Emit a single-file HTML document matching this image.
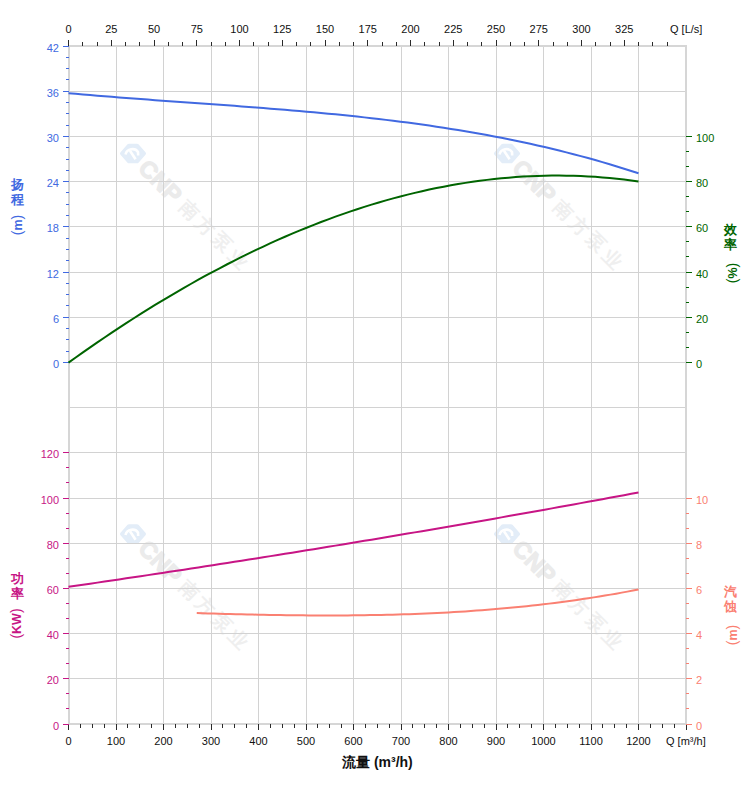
<!DOCTYPE html>
<html><head><meta charset="utf-8"><style>
html,body{margin:0;padding:0;background:#fff;}
body{width:752px;height:797px;position:relative;overflow:hidden;font-family:"Liberation Sans", sans-serif;}
.vt{position:absolute;writing-mode:vertical-rl;font-size:14px;line-height:15px;font-weight:bold;white-space:nowrap;}
.xt{position:absolute;font-size:14px;font-weight:bold;white-space:nowrap;color:#111;}
</style></head><body>
<svg width="752" height="797" viewBox="0 0 752 797" style="position:absolute;left:0;top:0">
<g transform="translate(133,153.5)"><polygon points="-11,0 -4,-7.8 4,-7.8 11,0 4,7.8 -4,7.8" fill="#e3edf8" stroke="#e3edf8" stroke-width="4" stroke-linejoin="round"/><path d="M-7.5,1 C-6,-5 2,-6 5,-1.5 L5.2,2" fill="none" stroke="#fff" stroke-width="2.6"/><path d="M-3,-2.8 L2.6,5.8" fill="none" stroke="#fff" stroke-width="2.6"/><g transform="rotate(45)"><text x="14" y="8.5" font-family='"Liberation Sans",sans-serif' font-size="23.5" font-weight="bold" fill="#ebebeb" stroke="#ebebeb" stroke-width="1.2">CNP</text><text x="70" y="6.5" font-family='"Liberation Sans",sans-serif' font-size="19" letter-spacing="4.2" font-weight="bold" fill="#efefef">南方泵业</text></g></g>
<g transform="translate(507,153.5)"><polygon points="-11,0 -4,-7.8 4,-7.8 11,0 4,7.8 -4,7.8" fill="#e3edf8" stroke="#e3edf8" stroke-width="4" stroke-linejoin="round"/><path d="M-7.5,1 C-6,-5 2,-6 5,-1.5 L5.2,2" fill="none" stroke="#fff" stroke-width="2.6"/><path d="M-3,-2.8 L2.6,5.8" fill="none" stroke="#fff" stroke-width="2.6"/><g transform="rotate(45)"><text x="14" y="8.5" font-family='"Liberation Sans",sans-serif' font-size="23.5" font-weight="bold" fill="#ebebeb" stroke="#ebebeb" stroke-width="1.2">CNP</text><text x="70" y="6.5" font-family='"Liberation Sans",sans-serif' font-size="19" letter-spacing="4.2" font-weight="bold" fill="#efefef">南方泵业</text></g></g>
<g transform="translate(133,534)"><polygon points="-11,0 -4,-7.8 4,-7.8 11,0 4,7.8 -4,7.8" fill="#e3edf8" stroke="#e3edf8" stroke-width="4" stroke-linejoin="round"/><path d="M-7.5,1 C-6,-5 2,-6 5,-1.5 L5.2,2" fill="none" stroke="#fff" stroke-width="2.6"/><path d="M-3,-2.8 L2.6,5.8" fill="none" stroke="#fff" stroke-width="2.6"/><g transform="rotate(45)"><text x="14" y="8.5" font-family='"Liberation Sans",sans-serif' font-size="23.5" font-weight="bold" fill="#ebebeb" stroke="#ebebeb" stroke-width="1.2">CNP</text><text x="70" y="6.5" font-family='"Liberation Sans",sans-serif' font-size="19" letter-spacing="4.2" font-weight="bold" fill="#efefef">南方泵业</text></g></g>
<g transform="translate(507,534)"><polygon points="-11,0 -4,-7.8 4,-7.8 11,0 4,7.8 -4,7.8" fill="#e3edf8" stroke="#e3edf8" stroke-width="4" stroke-linejoin="round"/><path d="M-7.5,1 C-6,-5 2,-6 5,-1.5 L5.2,2" fill="none" stroke="#fff" stroke-width="2.6"/><path d="M-3,-2.8 L2.6,5.8" fill="none" stroke="#fff" stroke-width="2.6"/><g transform="rotate(45)"><text x="14" y="8.5" font-family='"Liberation Sans",sans-serif' font-size="23.5" font-weight="bold" fill="#ebebeb" stroke="#ebebeb" stroke-width="1.2">CNP</text><text x="70" y="6.5" font-family='"Liberation Sans",sans-serif' font-size="19" letter-spacing="4.2" font-weight="bold" fill="#efefef">南方泵业</text></g></g>
<g fill="#d2d2d2" shape-rendering="crispEdges"><rect x="116" y="46" width="1" height="677"/><rect x="163" y="46" width="1" height="677"/><rect x="211" y="46" width="1" height="677"/><rect x="258" y="46" width="1" height="677"/><rect x="306" y="46" width="1" height="677"/><rect x="353" y="46" width="1" height="677"/><rect x="401" y="46" width="1" height="677"/><rect x="448" y="46" width="1" height="677"/><rect x="496" y="46" width="1" height="677"/><rect x="543" y="46" width="1" height="677"/><rect x="591" y="46" width="1" height="677"/><rect x="638" y="46" width="1" height="677"/><rect x="70" y="91" width="615" height="1"/><rect x="70" y="136" width="615" height="1"/><rect x="70" y="181" width="615" height="1"/><rect x="70" y="226" width="615" height="1"/><rect x="70" y="272" width="615" height="1"/><rect x="70" y="317" width="615" height="1"/><rect x="70" y="362" width="615" height="1"/><rect x="70" y="407" width="615" height="1"/><rect x="70" y="452" width="615" height="1"/><rect x="70" y="498" width="615" height="1"/><rect x="70" y="543" width="615" height="1"/><rect x="70" y="588" width="615" height="1"/><rect x="70" y="633" width="615" height="1"/><rect x="70" y="678" width="615" height="1"/></g>
<g fill="#d6d6d6" shape-rendering="crispEdges"><rect x="68" y="45" width="2" height="680"/><rect x="685" y="45" width="2" height="680"/><rect x="68" y="45" width="619" height="2"/><rect x="68" y="723" width="619" height="2"/></g>
<g fill="#2a2a2a" shape-rendering="crispEdges"><rect x="68" y="40" width="1" height="6"/><rect x="82" y="42" width="1" height="4"/><rect x="97" y="42" width="1" height="4"/><rect x="111" y="40" width="1" height="6"/><rect x="125" y="42" width="1" height="4"/><rect x="139" y="42" width="1" height="4"/><rect x="154" y="40" width="1" height="6"/><rect x="168" y="42" width="1" height="4"/><rect x="182" y="42" width="1" height="4"/><rect x="196" y="40" width="1" height="6"/><rect x="211" y="42" width="1" height="4"/><rect x="225" y="42" width="1" height="4"/><rect x="239" y="40" width="1" height="6"/><rect x="253" y="42" width="1" height="4"/><rect x="268" y="42" width="1" height="4"/><rect x="282" y="40" width="1" height="6"/><rect x="296" y="42" width="1" height="4"/><rect x="310" y="42" width="1" height="4"/><rect x="325" y="40" width="1" height="6"/><rect x="339" y="42" width="1" height="4"/><rect x="353" y="42" width="1" height="4"/><rect x="367" y="40" width="1" height="6"/><rect x="382" y="42" width="1" height="4"/><rect x="396" y="42" width="1" height="4"/><rect x="410" y="40" width="1" height="6"/><rect x="424" y="42" width="1" height="4"/><rect x="439" y="42" width="1" height="4"/><rect x="453" y="40" width="1" height="6"/><rect x="467" y="42" width="1" height="4"/><rect x="481" y="42" width="1" height="4"/><rect x="496" y="40" width="1" height="6"/><rect x="510" y="42" width="1" height="4"/><rect x="524" y="42" width="1" height="4"/><rect x="538" y="40" width="1" height="6"/><rect x="553" y="42" width="1" height="4"/><rect x="567" y="42" width="1" height="4"/><rect x="581" y="40" width="1" height="6"/><rect x="595" y="42" width="1" height="4"/><rect x="610" y="42" width="1" height="4"/><rect x="624" y="40" width="1" height="6"/><rect x="638" y="42" width="1" height="4"/><rect x="652" y="42" width="1" height="4"/><rect x="667" y="42" width="1" height="4"/><rect x="68" y="724" width="1" height="6"/><rect x="80" y="724" width="1" height="4"/><rect x="92" y="724" width="1" height="4"/><rect x="104" y="724" width="1" height="4"/><rect x="116" y="724" width="1" height="6"/><rect x="127" y="724" width="1" height="4"/><rect x="139" y="724" width="1" height="4"/><rect x="151" y="724" width="1" height="4"/><rect x="163" y="724" width="1" height="6"/><rect x="175" y="724" width="1" height="4"/><rect x="187" y="724" width="1" height="4"/><rect x="199" y="724" width="1" height="4"/><rect x="211" y="724" width="1" height="6"/><rect x="222" y="724" width="1" height="4"/><rect x="234" y="724" width="1" height="4"/><rect x="246" y="724" width="1" height="4"/><rect x="258" y="724" width="1" height="6"/><rect x="270" y="724" width="1" height="4"/><rect x="282" y="724" width="1" height="4"/><rect x="294" y="724" width="1" height="4"/><rect x="306" y="724" width="1" height="6"/><rect x="317" y="724" width="1" height="4"/><rect x="329" y="724" width="1" height="4"/><rect x="341" y="724" width="1" height="4"/><rect x="353" y="724" width="1" height="6"/><rect x="365" y="724" width="1" height="4"/><rect x="377" y="724" width="1" height="4"/><rect x="389" y="724" width="1" height="4"/><rect x="401" y="724" width="1" height="6"/><rect x="412" y="724" width="1" height="4"/><rect x="424" y="724" width="1" height="4"/><rect x="436" y="724" width="1" height="4"/><rect x="448" y="724" width="1" height="6"/><rect x="460" y="724" width="1" height="4"/><rect x="472" y="724" width="1" height="4"/><rect x="484" y="724" width="1" height="4"/><rect x="496" y="724" width="1" height="6"/><rect x="507" y="724" width="1" height="4"/><rect x="519" y="724" width="1" height="4"/><rect x="531" y="724" width="1" height="4"/><rect x="543" y="724" width="1" height="6"/><rect x="555" y="724" width="1" height="4"/><rect x="567" y="724" width="1" height="4"/><rect x="579" y="724" width="1" height="4"/><rect x="591" y="724" width="1" height="6"/><rect x="602" y="724" width="1" height="4"/><rect x="614" y="724" width="1" height="4"/><rect x="626" y="724" width="1" height="4"/><rect x="638" y="724" width="1" height="6"/><rect x="650" y="724" width="1" height="4"/><rect x="662" y="724" width="1" height="4"/><rect x="674" y="724" width="1" height="4"/><rect x="686" y="724" width="1" height="6"/></g>
<g fill="#4169e1" shape-rendering="crispEdges"><rect x="63" y="46" width="6" height="1"/><rect x="66" y="57" width="3" height="1"/><rect x="66" y="68" width="3" height="1"/><rect x="66" y="79" width="3" height="1"/><rect x="63" y="91" width="6" height="1"/><rect x="66" y="102" width="3" height="1"/><rect x="66" y="113" width="3" height="1"/><rect x="66" y="125" width="3" height="1"/><rect x="63" y="136" width="6" height="1"/><rect x="66" y="147" width="3" height="1"/><rect x="66" y="159" width="3" height="1"/><rect x="66" y="170" width="3" height="1"/><rect x="63" y="181" width="6" height="1"/><rect x="66" y="192" width="3" height="1"/><rect x="66" y="204" width="3" height="1"/><rect x="66" y="215" width="3" height="1"/><rect x="63" y="226" width="6" height="1"/><rect x="66" y="238" width="3" height="1"/><rect x="66" y="249" width="3" height="1"/><rect x="66" y="260" width="3" height="1"/><rect x="63" y="272" width="6" height="1"/><rect x="66" y="283" width="3" height="1"/><rect x="66" y="294" width="3" height="1"/><rect x="66" y="305" width="3" height="1"/><rect x="63" y="317" width="6" height="1"/><rect x="66" y="328" width="3" height="1"/><rect x="66" y="339" width="3" height="1"/><rect x="66" y="351" width="3" height="1"/><rect x="63" y="362" width="6" height="1"/></g>
<g fill="#006400" shape-rendering="crispEdges"><rect x="686" y="136" width="6" height="1"/><rect x="686" y="151" width="3" height="1"/><rect x="686" y="166" width="3" height="1"/><rect x="686" y="181" width="6" height="1"/><rect x="686" y="196" width="3" height="1"/><rect x="686" y="211" width="3" height="1"/><rect x="686" y="226" width="6" height="1"/><rect x="686" y="241" width="3" height="1"/><rect x="686" y="256" width="3" height="1"/><rect x="686" y="272" width="6" height="1"/><rect x="686" y="287" width="3" height="1"/><rect x="686" y="302" width="3" height="1"/><rect x="686" y="317" width="6" height="1"/><rect x="686" y="332" width="3" height="1"/><rect x="686" y="347" width="3" height="1"/><rect x="686" y="362" width="6" height="1"/></g>
<g fill="#c71585" shape-rendering="crispEdges"><rect x="63" y="452" width="6" height="1"/><rect x="66" y="467" width="3" height="1"/><rect x="66" y="482" width="3" height="1"/><rect x="63" y="498" width="6" height="1"/><rect x="66" y="513" width="3" height="1"/><rect x="66" y="528" width="3" height="1"/><rect x="63" y="543" width="6" height="1"/><rect x="66" y="558" width="3" height="1"/><rect x="66" y="573" width="3" height="1"/><rect x="63" y="588" width="6" height="1"/><rect x="66" y="603" width="3" height="1"/><rect x="66" y="618" width="3" height="1"/><rect x="63" y="633" width="6" height="1"/><rect x="66" y="648" width="3" height="1"/><rect x="66" y="663" width="3" height="1"/><rect x="63" y="678" width="6" height="1"/><rect x="66" y="693" width="3" height="1"/><rect x="66" y="708" width="3" height="1"/><rect x="63" y="724" width="6" height="1"/></g>
<g fill="#fa8072" shape-rendering="crispEdges"><rect x="686" y="498" width="6" height="1"/><rect x="686" y="513" width="3" height="1"/><rect x="686" y="528" width="3" height="1"/><rect x="686" y="543" width="6" height="1"/><rect x="686" y="558" width="3" height="1"/><rect x="686" y="573" width="3" height="1"/><rect x="686" y="588" width="6" height="1"/><rect x="686" y="603" width="3" height="1"/><rect x="686" y="618" width="3" height="1"/><rect x="686" y="633" width="6" height="1"/><rect x="686" y="648" width="3" height="1"/><rect x="686" y="663" width="3" height="1"/><rect x="686" y="678" width="6" height="1"/><rect x="686" y="693" width="3" height="1"/><rect x="686" y="708" width="3" height="1"/><rect x="686" y="724" width="6" height="1"/></g>
<polyline fill="none" stroke="#4169e1" stroke-width="2" points="68.50,93.15 75.72,93.80 82.93,94.43 90.15,95.05 97.36,95.66 104.58,96.25 111.79,96.83 119.01,97.40 126.22,97.96 133.44,98.52 140.65,99.06 147.87,99.60 155.08,100.13 162.30,100.66 169.51,101.18 176.73,101.70 183.94,102.22 191.16,102.74 198.37,103.25 205.59,103.77 212.80,104.29 220.02,104.81 227.23,105.34 234.45,105.87 241.66,106.41 248.88,106.95 256.09,107.51 263.31,108.07 270.53,108.64 277.74,109.22 284.96,109.81 292.17,110.42 299.39,111.04 306.60,111.67 313.82,112.32 321.03,112.99 328.25,113.67 335.46,114.37 342.68,115.09 349.89,115.83 357.11,116.60 364.32,117.38 371.54,118.19 378.75,119.02 385.97,119.88 393.18,120.76 400.40,121.67 407.61,122.61 414.83,123.58 422.04,124.58 429.26,125.61 436.47,126.67 443.69,127.76 450.91,128.89 458.12,130.06 465.34,131.25 472.55,132.49 479.77,133.76 486.98,135.08 494.20,136.43 501.41,137.82 508.63,139.26 515.84,140.73 523.06,142.25 530.27,143.82 537.49,145.43 544.70,147.09 551.92,148.79 559.13,150.55 566.35,152.35 573.56,154.21 580.78,156.11 587.99,158.07 595.21,160.08 602.42,162.14 609.64,164.26 616.85,166.44 624.07,168.67 631.28,170.97 638.50,173.32"/>
<polyline fill="none" stroke="#006400" stroke-width="2" points="68.50,362.66 75.72,357.50 82.93,352.40 90.15,347.37 97.36,342.40 104.58,337.50 111.79,332.65 119.01,327.88 126.22,323.17 133.44,318.52 140.65,313.94 147.87,309.42 155.08,304.97 162.30,300.59 169.51,296.28 176.73,292.03 183.94,287.85 191.16,283.75 198.37,279.71 205.59,275.74 212.80,271.84 220.02,268.01 227.23,264.25 234.45,260.56 241.66,256.95 248.88,253.40 256.09,249.93 263.31,246.53 270.53,243.21 277.74,239.96 284.96,236.79 292.17,233.69 299.39,230.66 306.60,227.71 313.82,224.84 321.03,222.04 328.25,219.32 335.46,216.68 342.68,214.12 349.89,211.63 357.11,209.23 364.32,206.90 371.54,204.65 378.75,202.48 385.97,200.40 393.18,198.39 400.40,196.46 407.61,194.62 414.83,192.86 422.04,191.18 429.26,189.59 436.47,188.08 443.69,186.65 450.91,185.31 458.12,184.05 465.34,182.88 472.55,181.79 479.77,180.79 486.98,179.88 494.20,179.05 501.41,178.31 508.63,177.66 515.84,177.10 523.06,176.62 530.27,176.24 537.49,175.94 544.70,175.74 551.92,175.62 559.13,175.60 566.35,175.67 573.56,175.83 580.78,176.08 587.99,176.43 595.21,176.86 602.42,177.40 609.64,178.02 616.85,178.74 624.07,179.56 631.28,180.47 638.50,181.47"/>
<polyline fill="none" stroke="#c71585" stroke-width="2" points="68.50,586.82 75.72,585.78 82.93,584.73 90.15,583.68 97.36,582.62 104.58,581.56 111.79,580.50 119.01,579.43 126.22,578.36 133.44,577.29 140.65,576.21 147.87,575.13 155.08,574.04 162.30,572.95 169.51,571.86 176.73,570.76 183.94,569.66 191.16,568.55 198.37,567.44 205.59,566.33 212.80,565.21 220.02,564.09 227.23,562.96 234.45,561.84 241.66,560.70 248.88,559.57 256.09,558.43 263.31,557.28 270.53,556.13 277.74,554.98 284.96,553.83 292.17,552.67 299.39,551.50 306.60,550.34 313.82,549.17 321.03,547.99 328.25,546.81 335.46,545.63 342.68,544.44 349.89,543.25 357.11,542.06 364.32,540.86 371.54,539.66 378.75,538.45 385.97,537.24 393.18,536.03 400.40,534.81 407.61,533.59 414.83,532.37 422.04,531.14 429.26,529.90 436.47,528.67 443.69,527.43 450.91,526.18 458.12,524.93 465.34,523.68 472.55,522.43 479.77,521.17 486.98,519.90 494.20,518.64 501.41,517.36 508.63,516.09 515.84,514.81 523.06,513.53 530.27,512.24 537.49,510.95 544.70,509.66 551.92,508.36 559.13,507.06 566.35,505.75 573.56,504.44 580.78,503.13 587.99,501.81 595.21,500.49 602.42,499.16 609.64,497.83 616.85,496.50 624.07,495.16 631.28,493.82 638.50,492.48"/>
<polyline fill="none" stroke="#fa8072" stroke-width="2" points="196.75,613.07 202.34,613.24 207.93,613.41 213.53,613.57 219.12,613.73 224.71,613.88 230.30,614.03 235.89,614.17 241.48,614.31 247.08,614.44 252.67,614.56 258.26,614.68 263.85,614.79 269.44,614.89 275.03,614.99 280.63,615.07 286.22,615.15 291.81,615.22 297.40,615.28 302.99,615.34 308.59,615.38 314.18,615.41 319.77,615.43 325.36,615.44 330.95,615.44 336.54,615.43 342.14,615.41 347.73,615.38 353.32,615.33 358.91,615.27 364.50,615.20 370.09,615.12 375.69,615.02 381.28,614.91 386.87,614.78 392.46,614.64 398.05,614.49 403.65,614.32 409.24,614.14 414.83,613.94 420.42,613.72 426.01,613.49 431.60,613.24 437.20,612.97 442.79,612.69 448.38,612.39 453.97,612.07 459.56,611.73 465.16,611.38 470.75,611.00 476.34,610.61 481.93,610.20 487.52,609.76 493.11,609.31 498.71,608.84 504.30,608.35 509.89,607.83 515.48,607.30 521.07,606.74 526.66,606.16 532.26,605.56 537.85,604.93 543.44,604.29 549.03,603.62 554.62,602.92 560.22,602.20 565.81,601.46 571.40,600.69 576.99,599.90 582.58,599.09 588.17,598.24 593.77,597.38 599.36,596.48 604.95,595.56 610.54,594.62 616.13,593.64 621.72,592.64 627.32,591.61 632.91,590.55 638.50,589.47"/>
<g font-family='"Liberation Sans", sans-serif'><text x="68.5" y="33" fill="#111" text-anchor="middle" font-size="11" font-weight="normal">0</text><text x="111.25" y="33" fill="#111" text-anchor="middle" font-size="11" font-weight="normal">25</text><text x="154.0" y="33" fill="#111" text-anchor="middle" font-size="11" font-weight="normal">50</text><text x="196.75" y="33" fill="#111" text-anchor="middle" font-size="11" font-weight="normal">75</text><text x="239.5" y="33" fill="#111" text-anchor="middle" font-size="11" font-weight="normal">100</text><text x="282.25" y="33" fill="#111" text-anchor="middle" font-size="11" font-weight="normal">125</text><text x="325.0" y="33" fill="#111" text-anchor="middle" font-size="11" font-weight="normal">150</text><text x="367.75" y="33" fill="#111" text-anchor="middle" font-size="11" font-weight="normal">175</text><text x="410.5" y="33" fill="#111" text-anchor="middle" font-size="11" font-weight="normal">200</text><text x="453.25" y="33" fill="#111" text-anchor="middle" font-size="11" font-weight="normal">225</text><text x="496.0" y="33" fill="#111" text-anchor="middle" font-size="11" font-weight="normal">250</text><text x="538.75" y="33" fill="#111" text-anchor="middle" font-size="11" font-weight="normal">275</text><text x="581.5" y="33" fill="#111" text-anchor="middle" font-size="11" font-weight="normal">300</text><text x="624.25" y="33" fill="#111" text-anchor="middle" font-size="11" font-weight="normal">325</text><text x="670" y="33" fill="#111" text-anchor="start" font-size="11" font-weight="normal">Q [L/s]</text><text x="68.5" y="745" fill="#111" text-anchor="middle" font-size="11" font-weight="normal">0</text><text x="116.0" y="745" fill="#111" text-anchor="middle" font-size="11" font-weight="normal">100</text><text x="163.5" y="745" fill="#111" text-anchor="middle" font-size="11" font-weight="normal">200</text><text x="211.0" y="745" fill="#111" text-anchor="middle" font-size="11" font-weight="normal">300</text><text x="258.5" y="745" fill="#111" text-anchor="middle" font-size="11" font-weight="normal">400</text><text x="306.0" y="745" fill="#111" text-anchor="middle" font-size="11" font-weight="normal">500</text><text x="353.5" y="745" fill="#111" text-anchor="middle" font-size="11" font-weight="normal">600</text><text x="401.0" y="745" fill="#111" text-anchor="middle" font-size="11" font-weight="normal">700</text><text x="448.5" y="745" fill="#111" text-anchor="middle" font-size="11" font-weight="normal">800</text><text x="496.0" y="745" fill="#111" text-anchor="middle" font-size="11" font-weight="normal">900</text><text x="543.5" y="745" fill="#111" text-anchor="middle" font-size="11" font-weight="normal">1000</text><text x="591.0" y="745" fill="#111" text-anchor="middle" font-size="11" font-weight="normal">1100</text><text x="638.5" y="745" fill="#111" text-anchor="middle" font-size="11" font-weight="normal">1200</text><text x="666" y="745" fill="#111" text-anchor="start" font-size="11" font-weight="normal">Q [m³/h]</text><text x="59" y="51.6" fill="#4169e1" text-anchor="end" font-size="11" font-weight="normal">42</text><text x="59" y="96.80000000000001" fill="#4169e1" text-anchor="end" font-size="11" font-weight="normal">36</text><text x="59" y="142.0" fill="#4169e1" text-anchor="end" font-size="11" font-weight="normal">30</text><text x="59" y="187.20000000000002" fill="#4169e1" text-anchor="end" font-size="11" font-weight="normal">24</text><text x="59" y="232.4" fill="#4169e1" text-anchor="end" font-size="11" font-weight="normal">18</text><text x="59" y="277.6" fill="#4169e1" text-anchor="end" font-size="11" font-weight="normal">12</text><text x="59" y="322.80000000000007" fill="#4169e1" text-anchor="end" font-size="11" font-weight="normal">6</text><text x="59" y="368.00000000000006" fill="#4169e1" text-anchor="end" font-size="11" font-weight="normal">0</text><text x="696" y="142.0" fill="#006400" text-anchor="start" font-size="11" font-weight="normal">100</text><text x="696" y="187.20000000000002" fill="#006400" text-anchor="start" font-size="11" font-weight="normal">80</text><text x="696" y="232.4" fill="#006400" text-anchor="start" font-size="11" font-weight="normal">60</text><text x="696" y="277.6" fill="#006400" text-anchor="start" font-size="11" font-weight="normal">40</text><text x="696" y="322.80000000000007" fill="#006400" text-anchor="start" font-size="11" font-weight="normal">20</text><text x="696" y="368.00000000000006" fill="#006400" text-anchor="start" font-size="11" font-weight="normal">0</text><text x="59" y="458.40000000000003" fill="#c71585" text-anchor="end" font-size="11" font-weight="normal">120</text><text x="59" y="503.6" fill="#c71585" text-anchor="end" font-size="11" font-weight="normal">100</text><text x="59" y="548.8000000000001" fill="#c71585" text-anchor="end" font-size="11" font-weight="normal">80</text><text x="59" y="594.0000000000001" fill="#c71585" text-anchor="end" font-size="11" font-weight="normal">60</text><text x="59" y="639.2" fill="#c71585" text-anchor="end" font-size="11" font-weight="normal">40</text><text x="59" y="684.4000000000001" fill="#c71585" text-anchor="end" font-size="11" font-weight="normal">20</text><text x="59" y="729.6" fill="#c71585" text-anchor="end" font-size="11" font-weight="normal">0</text><text x="696" y="503.6" fill="#fa8072" text-anchor="start" font-size="11" font-weight="normal">10</text><text x="696" y="548.8000000000001" fill="#fa8072" text-anchor="start" font-size="11" font-weight="normal">8</text><text x="696" y="594.0000000000001" fill="#fa8072" text-anchor="start" font-size="11" font-weight="normal">6</text><text x="696" y="639.2" fill="#fa8072" text-anchor="start" font-size="11" font-weight="normal">4</text><text x="696" y="684.4000000000001" fill="#fa8072" text-anchor="start" font-size="11" font-weight="normal">2</text><text x="696" y="729.6" fill="#fa8072" text-anchor="start" font-size="11" font-weight="normal">0</text></g>
<g font-family='"Liberation Sans", sans-serif'><text x="17.5" y="189" fill="#4169e1" text-anchor="middle" font-size="13" font-weight="bold">扬</text><text x="17.5" y="204" fill="#4169e1" text-anchor="middle" font-size="13" font-weight="bold">程</text><text transform="translate(21.5,225) rotate(-90)" fill="#4169e1" text-anchor="middle" font-size="14"><tspan font-weight="normal">(</tspan><tspan font-weight="bold" font-size="12.5">m</tspan><tspan font-weight="normal">)</tspan></text><text x="730" y="234" fill="#006400" text-anchor="middle" font-size="13" font-weight="bold">效</text><text x="730" y="249" fill="#006400" text-anchor="middle" font-size="13" font-weight="bold">率</text><text transform="translate(736.5,273) rotate(-90)" fill="#006400" text-anchor="middle" font-size="14"><tspan font-weight="normal">(</tspan><tspan font-weight="bold" font-size="12.5">%</tspan><tspan font-weight="normal">)</tspan></text><text x="17.5" y="583" fill="#c71585" text-anchor="middle" font-size="13" font-weight="bold">功</text><text x="17.5" y="598" fill="#c71585" text-anchor="middle" font-size="13" font-weight="bold">率</text><text transform="translate(21.0,623.5) rotate(-90)" fill="#c71585" text-anchor="middle" font-size="14"><tspan font-weight="normal">(</tspan><tspan font-weight="bold" font-size="12.5">KW</tspan><tspan font-weight="normal">)</tspan></text><text x="730.5" y="596" fill="#fa8072" text-anchor="middle" font-size="13" font-weight="bold">汽</text><text x="730.5" y="611" fill="#fa8072" text-anchor="middle" font-size="13" font-weight="bold">蚀</text><text transform="translate(736.5,635) rotate(-90)" fill="#fa8072" text-anchor="middle" font-size="14"><tspan font-weight="normal">(</tspan><tspan font-weight="bold" font-size="12.5">m</tspan><tspan font-weight="normal">)</tspan></text></g>
</svg>
<div class="xt" style="left:342px;top:754px">流量 (m³/h)</div>
</body></html>
